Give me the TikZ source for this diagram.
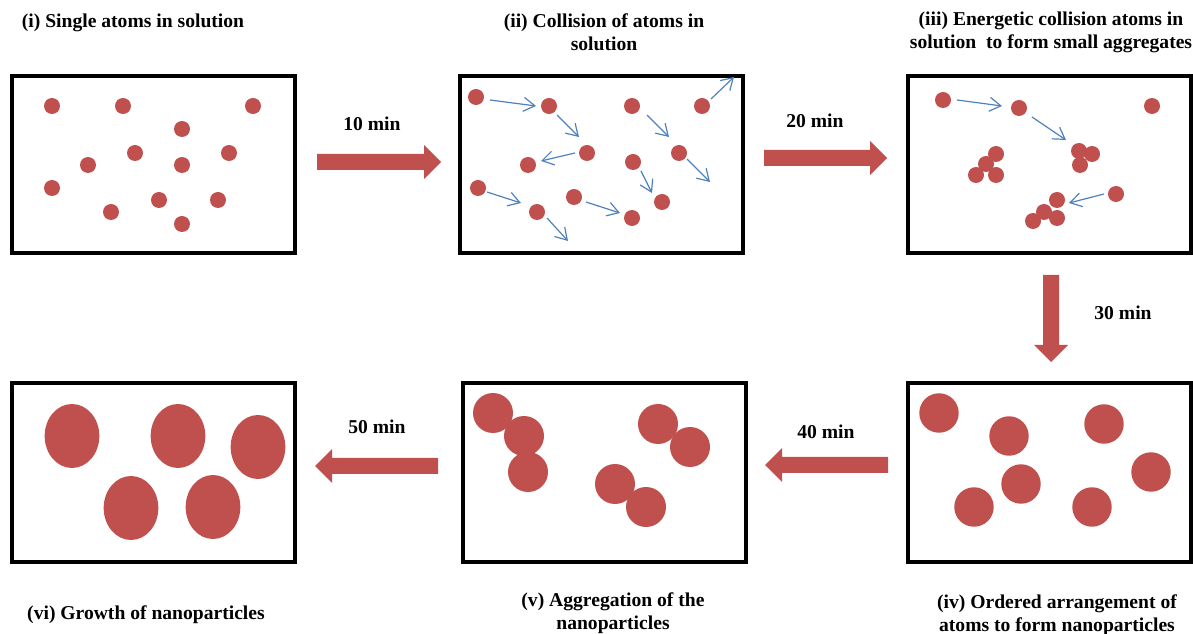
\documentclass[tikz,border=0pt]{standalone}
\usepackage{fontspec}
\setmainfont{Liberation Serif}
\usetikzlibrary{arrows.meta}
\definecolor{atomred}{HTML}{C0504D}
\definecolor{motionblue}{HTML}{4F81BD}
\begin{document}
\begin{tikzpicture}[x=0.75pt,y=-0.75pt,
  panel/.style={draw=black,line width=3pt},
  atom/.style={fill=atomred},
  motion/.style={draw=motionblue,line width=0.9pt,-{Straight Barb[length=8.5pt,width=10.5pt,line width=0.9pt]}},
  lbl/.style={font=\fontsize{14.7}{17.25}\selectfont\bfseries,align=center,inner sep=0pt},
  bigarrow/.style={fill=atomred}]
\useasboundingbox (0,0) rectangle (1193,634);
% panels
\node[panel,minimum width=212.25pt,minimum height=132.75pt,inner sep=0pt] (p1) at (153.5,164.5) {};
\node[panel,minimum width=212.25pt,minimum height=132.75pt,inner sep=0pt] (p2) at (601.5,164.5) {};
\node[panel,minimum width=212.25pt,minimum height=132.75pt,inner sep=0pt] (p3) at (1049.5,164.5) {};
\node[panel,minimum width=212.25pt,minimum height=134.25pt,inner sep=0pt] (p4) at (1049.5,472.5) {};
\node[panel,minimum width=212.25pt,minimum height=134.25pt,inner sep=0pt] (p5) at (604.5,472.5) {};
\node[panel,minimum width=212.25pt,minimum height=134.25pt,inner sep=0pt] (p6) at (153.5,472.5) {};
% panel 1 atoms
\foreach \p in {(52,106),(123,106),(253,106),(182,129),(135,153),(229,153),(88,165),(182,165),(52,188),(159,200),(218,200),(111,212),(182,224)}
  \fill[atom] \p circle[radius=6pt];
% panel 2 atoms
\foreach \p in {(476,97),(549,106),(632,106),(702,106),(587,153),(528,165),(633,162),(679,153),(478,188),(574,197),(537,212),(662,202),(632,218)}
  \fill[atom] \p circle[radius=6pt];
% panel 2 motion arrows
\draw[motion] (490,100) -- (536,106);
\draw[motion] (557,115) -- (579,137);
\draw[motion] (575,153) -- (541,161);
\draw[motion] (647,115) -- (669,137);
\draw[motion] (711,99) -- (734,77);
\draw[motion] (687,159) -- (710,182);
\draw[motion] (641,171) -- (652,193);
\draw[motion] (487,192) -- (521,203);
\draw[motion] (586,202) -- (620,213);
\draw[motion] (547,218) -- (568,241);
% panel 3 atoms
\foreach \p in {(943,100),(1019,108),(1152,106),(996,154),(986,164),(976,175),(996,175),(1079,151),(1092,154),(1080,165),(1116,194),(1057,200),(1044,212),(1057,218),(1033,221)}
  \fill[atom] \p circle[radius=6pt];
\draw[motion] (957,100) -- (1002,106);
\draw[motion] (1032,117) -- (1066,140);
\draw[motion] (1104,194) -- (1069,203);
% panel 4 nanoparticles
\foreach \p in {(939,413),(1009,436),(1104,424),(1151,472),(1021,484),(974,507),(1092,507)}
  \fill[atom] \p circle[radius=14.8pt];
% panel 5 aggregation
\foreach \p in {(493,413),(524,436),(528,472),(658,424),(690,447),(615,484),(646,507)}
  \fill[atom] \p circle[radius=15pt];
% panel 6 growth
\foreach \p in {(72,436),(178,436),(258,447),(131,508),(213,507)}
  \fill[atom] \p ellipse[x radius=20.5pt,y radius=24pt];
% big arrows
\fill[bigarrow] (317,154) -- (424,154) -- (424,145) -- (441,162) -- (424,179) -- (424,170) -- (317,170) -- cycle;
\fill[bigarrow] (764,150) -- (870,150) -- (870,141) -- (887,158) -- (870,175) -- (870,166) -- (764,166) -- cycle;
\fill[bigarrow] (1043,275) -- (1043,345) -- (1034,345) -- (1051,362) -- (1068,345) -- (1059,345) -- (1059,275) -- cycle;
\fill[bigarrow] (888,457) -- (782,457) -- (782,448) -- (765,465) -- (782,482) -- (782,473) -- (888,473) -- cycle;
\fill[bigarrow] (438,458) -- (332,458) -- (332,449) -- (315,466) -- (332,483) -- (332,474) -- (438,474) -- cycle;
% labels
\node[lbl] (t1) at (133,23) {(i) Single atoms in solution};
\node[lbl] (t2) at (604,32) {(ii) Collision of atoms in\\solution};
\node[lbl] (t3) at (1051,32) {(iii) Energetic collision atoms in\\solution\ \ to form small aggregates};
\node[lbl] (t4) at (1057,615.5) {(iv) Ordered arrangement of\\atoms to form nanoparticles};
\node[lbl] (t5) at (613,613.5) {(v) Aggregation of the\\nanoparticles};
\node[lbl] (t6) at (146,615) {(vi) Growth of nanoparticles};
\node[lbl] (m1) at (372,124) {10 min};
\node[lbl] (m2) at (815,121) {20 min};
\node[lbl] (m3) at (1123,313) {30 min};
\node[lbl] (m4) at (826,432) {40 min};
\node[lbl] (m5) at (377,427) {50 min};
\end{tikzpicture}
\end{document}
